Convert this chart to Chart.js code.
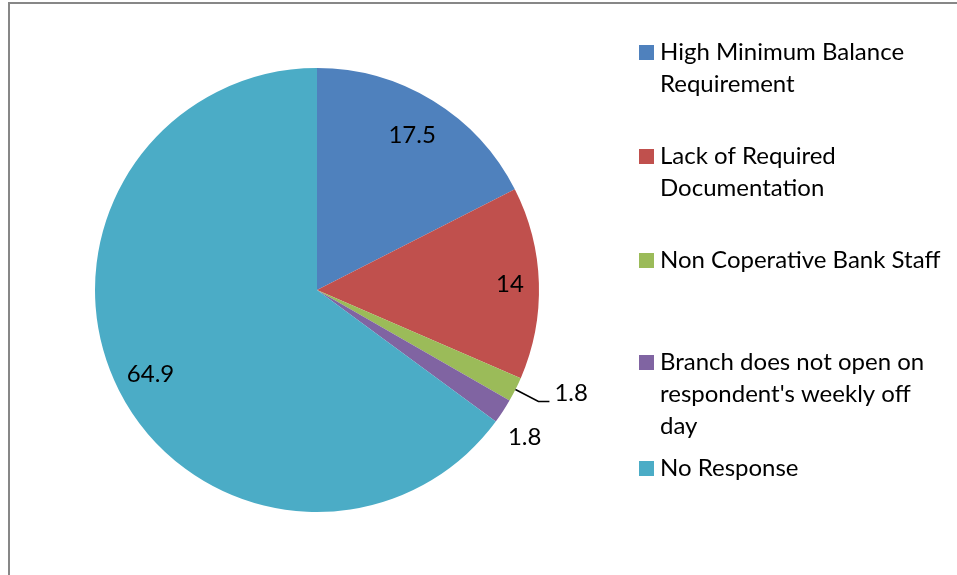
<!DOCTYPE html>
<html>
<head>
<meta charset="utf-8">
<script src="https://cdn.jsdelivr.net/npm/chart.js@4/dist/chart.umd.min.js"></script>
<style>
  html, body { margin: 0; padding: 0; background: #fff; }
  #wrap { width: 957px; height: 575px; position: relative; }
</style>
</head>
<body>
<div id="wrap"><canvas id="myChart" width="957" height="575"></canvas></div>
<script>
// chart data
const categories = [
    "High Minimum Balance Requirement",
    "Lack of Required Documentation",
    "Non Coperative Bank Staff",
    "Branch does not open on respondent's weekly off day",
    "No Response"
];
const values = [17.5, 14, 1.8, 1.8, 64.9];
const colors = ["#4F81BD", "#C0504D", "#9BBB59", "#8064A2", "#4BACC6"];

const FONT = "24px Lato, 'Open Sans', sans-serif";

// frame around the chart (only left and top edges show)
const framePlugin = {
    id: 'frame',
    beforeDraw(chart) {
        const ctx = chart.ctx;
        ctx.save();
        ctx.fillStyle = '#fff';
        ctx.fillRect(0, 0, chart.width, chart.height);
        ctx.strokeStyle = '#878787';
        ctx.lineWidth = 2;
        ctx.beginPath();
        ctx.moveTo(9, chart.height);
        ctx.lineTo(9, 3);
        ctx.lineTo(chart.width, 3);
        ctx.stroke();
        ctx.restore();
    }
};

// value labels on / next to the slices
const labelPlugin = {
    id: 'sliceLabels',
    afterDatasetsDraw(chart) {
        const ctx = chart.ctx;
        const arcs = chart.getDatasetMeta(0).data;
        // inside radius fraction, or null = outside label
        const inside = [0.82, 0.87, null, null, 0.84];
        ctx.save();
        ctx.font = FONT;
        ctx.fillStyle = '#000';
        ctx.textBaseline = 'middle';
        arcs.forEach((arc, i) => {
            const p = arc.getProps(['x', 'y', 'startAngle', 'endAngle', 'outerRadius'], true);
            const mid = (p.startAngle + p.endAngle) / 2;
            const ex = p.x + Math.cos(mid) * p.outerRadius;
            const ey = p.y + Math.sin(mid) * p.outerRadius;
            const txt = String(values[i]);
            if (inside[i] !== null) {
                ctx.textAlign = 'center';
                ctx.fillText(txt, p.x + Math.cos(mid) * p.outerRadius * inside[i],
                    p.y + Math.sin(mid) * p.outerRadius * inside[i]);
            } else if (i === 2) {
                // leader line
                ctx.strokeStyle = '#000';
                ctx.lineWidth = 1.6;
                ctx.beginPath();
                ctx.moveTo(ex, ey);
                ctx.lineTo(ex + 23, ey + 12);
                ctx.lineTo(ex + 34, ey + 12);
                ctx.stroke();
                ctx.textAlign = 'left';
                ctx.fillText(txt, ex + 39, ey + 4);
            } else {
                ctx.textAlign = 'left';
                ctx.fillText(txt, ex + 5, ey + 26);
            }
        });
        ctx.restore();
    }
};

// legend drawn at the right, wrapped like the original
const legendPlugin = {
    id: 'sideLegend',
    afterDraw(chart) {
        const ctx = chart.ctx;
        const firstY = [52, 156, 260, 362, 468];
        const lineH = 32;
        const maxW = 290;
        ctx.save();
        ctx.font = FONT;
        ctx.textBaseline = 'middle';
        ctx.textAlign = 'left';
        categories.forEach((cat, i) => {
            ctx.fillStyle = colors[i];
            ctx.fillRect(639, firstY[i] - 7, 15, 15);
            const words = cat.split(' ');
            const lines = [];
            let cur = '';
            words.forEach(w => {
                const test = cur ? cur + ' ' + w : w;
                if (ctx.measureText(test).width > maxW && cur) {
                    lines.push(cur);
                    cur = w;
                } else {
                    cur = test;
                }
            });
            lines.push(cur);
            ctx.fillStyle = '#000';
            lines.forEach((ln, j) => ctx.fillText(ln, 660, firstY[i] + j * lineH));
        });
        ctx.restore();
    }
};

const ctx = document.getElementById('myChart').getContext('2d');
const myChart = new Chart(ctx, {
    type: 'pie',
    data: {
        labels: categories,
        datasets: [{
            data: values,
            backgroundColor: colors,
            borderWidth: 0
        }]
    },
    options: {
        responsive: false,
        animation: false,
        layout: { padding: { left: 95, right: 418, top: 68, bottom: 63 } },
        plugins: {
            legend: { display: false },
            tooltip: { enabled: false }
        }
    },
    plugins: [framePlugin, labelPlugin, legendPlugin]
});
</script>
</body>
</html>
